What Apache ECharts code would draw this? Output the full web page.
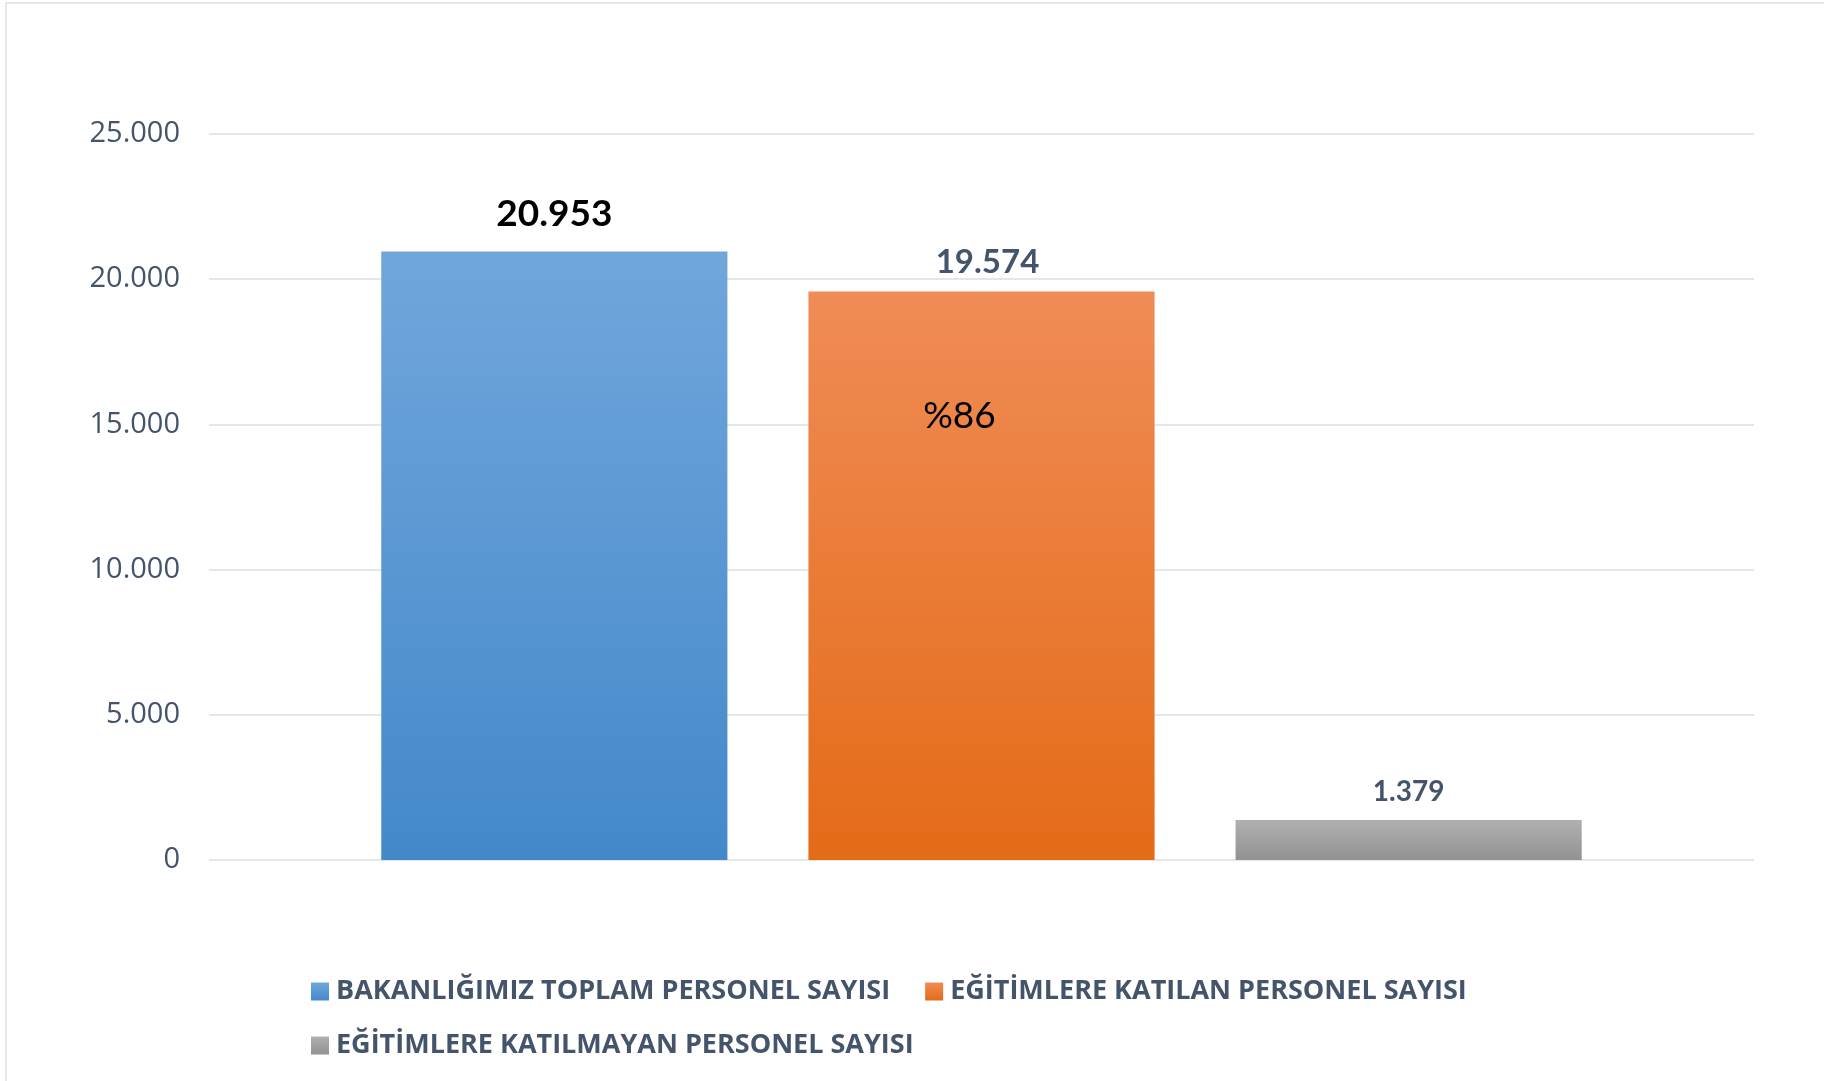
<!DOCTYPE html>
<html>
<head>
<meta charset="utf-8">
<title>Eğitimlere katılım</title>
<script src="https://cdn.jsdelivr.net/npm/echarts@6/dist/echarts.min.js"></script>
<style>
  html, body {
    margin: 0;
    padding: 0;
    background: #ffffff;
    overflow: hidden;
  }
  /* ince çerçeve (sol + üst) */
  .frame {
    position: absolute;
    left: 5px;
    top: 2px;
    width: 1900px;
    height: 1200px;
    border-left: 2px solid #e4e7eb;
    border-top: 2px solid #e4e7eb;
  }
  #main {
    position: absolute;
    left: 0;
    top: 0;
    width: 1824px;
    height: 1081px;
  }
</style>
</head>
<body>
<div class="frame"></div>
<div id="main"></div>
<script>
// veriler
const categories = ['Personel']
const seriesNames = [
  'BAKANLIĞIMIZ TOPLAM PERSONEL SAYISI',
  'EĞİTİMLERE KATILAN PERSONEL SAYISI',
  'EĞİTİMLERE KATILMAYAN PERSONEL SAYISI'
]
const totalStaff = [20953]
const attended = [19574]
const notAttended = [1379]
const attendedPctLabel = '%86'
const yTicks = [0, 5000, 10000, 15000, 20000, 25000]

const textColor = '#44546a'

// 20953 -> 20.953
function fmt(v) {
  return String(v).replace(/\B(?=(\d{3})+(?!\d))/g, '.')
}

function grad(top, bottom) {
  return new echarts.graphic.LinearGradient(0, 0, 0, 1, [
    { offset: 0, color: top },
    { offset: 1, color: bottom }
  ])
}

const myChart = echarts.init(document.getElementById('main'), null, { renderer: 'canvas' })

const legendText = {
  color: textColor,
  fontFamily: 'Open Sans',
  fontWeight: 'bold',
  fontSize: 27,
  padding: [0, 0, 0, 2]
}

myChart.setOption({
  backgroundColor: 'transparent',
  animation: false,
  grid: {
    left: 209,
    right: 70,
    top: 134,
    bottom: 221,
    containLabel: false
  },
  legend: [{
    data: [seriesNames[0], seriesNames[1]],
    left: 306,
    top: 973,
    itemWidth: 18,
    itemHeight: 18,
    itemGap: 35,
    icon: 'rect',
    textStyle: legendText
  }, {
    data: [seriesNames[2]],
    left: 306,
    top: 1027,
    itemWidth: 18,
    itemHeight: 18,
    icon: 'rect',
    textStyle: legendText
  }],
  xAxis: {
    type: 'category',
    data: categories,
    axisLine: { show: false },
    axisTick: { show: false },
    axisLabel: { show: false }
  },
  yAxis: {
    type: 'value',
    min: yTicks[0],
    max: yTicks[yTicks.length - 1],
    interval: yTicks[1] - yTicks[0],
    axisLine: { show: false },
    axisTick: { show: false },
    axisLabel: {
      color: textColor,
      fontFamily: 'Open Sans',
      fontSize: 29,
      margin: 29,
      padding: [4, 0, 0, 0],
      formatter: fmt
    },
    splitLine: {
      lineStyle: { color: '#e3e7ec', width: 2 }
    }
  },
  series: [{
    name: seriesNames[0],
    type: 'bar',
    data: totalStaff,
    barGap: '23.4%',
    barCategoryGap: '22.3%',
    itemStyle: { color: grad('#71a6db', '#4389ca') },
    label: {
      show: true,
      position: 'top',
      distance: 19,
      color: '#000000',
      fontFamily: 'Lato',
      fontWeight: 'bold',
      fontSize: 37,
      formatter: (p) => fmt(p.value)
    }
  },
  {
    name: seriesNames[1],
    type: 'bar',
    data: attended,
    itemStyle: { color: grad('#f08c56', '#e46b17') },
    label: {
      show: true,
      position: 'top',
      distance: 13,
      offset: [6, 0],
      color: textColor,
      fontFamily: 'Lato',
      fontWeight: 'bold',
      fontSize: 33,
      formatter: (p) => fmt(p.value)
    },
    // yüzde etiketi (çubuğun içinde)
    markPoint: {
      symbol: 'rect',
      symbolSize: 1,
      itemStyle: { color: 'rgba(0,0,0,0)' },
      data: [{ coord: [0, attended[0]] }],
      label: {
        show: true,
        position: 'inside',
        offset: [-22, 124],
        color: '#000000',
        fontFamily: 'Lato',
        fontSize: 37,
        formatter: attendedPctLabel
      }
    }
  },
  {
    name: seriesNames[2],
    type: 'bar',
    data: notAttended,
    itemStyle: { color: grad('#b0b0b0', '#929292') },
    label: {
      show: true,
      position: 'top',
      distance: 14,
      color: textColor,
      fontFamily: 'Lato',
      fontWeight: 'bold',
      fontSize: 28,
      formatter: (p) => fmt(p.value)
    }
  }
  ]
})
</script>
</body>
</html>
